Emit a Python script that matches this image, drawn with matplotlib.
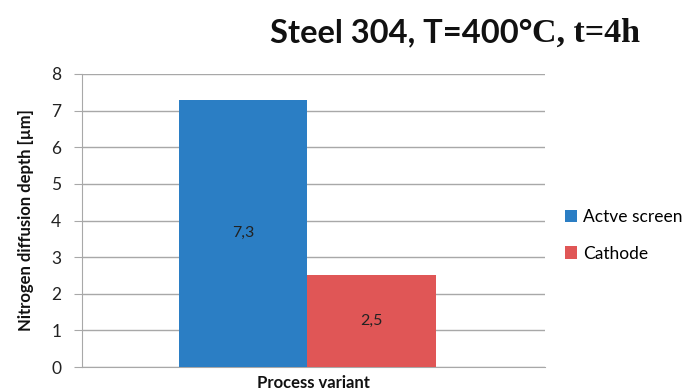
import matplotlib
matplotlib.use("Agg")
import matplotlib.pyplot as plt

series = ["Actve screen", "Cathode"]
values = [7.3, 2.5]
value_labels = ["7,3", "2,5"]
colors = ["#2B7EC4", "#E05656"]
yticks = [0, 1, 2, 3, 4, 5, 6, 7, 8]

plt.rcParams["font.family"] = ["Lato", "DejaVu Sans"]

fig = plt.figure(figsize=(6.97, 3.92), dpi=100)
ax = fig.add_axes([82 / 697, (392 - 367) / 392, 463 / 697, 293 / 392])

width = 0.277
offsets = [-width / 2, width / 2]
for name, v, lab, c, off in zip(series, values, value_labels, colors, offsets):
    ax.bar(off, v, width=width, color=c, label=name, zorder=3)
    ax.text(off, v / 2, lab, ha="center", va="center", fontsize=11.5, color="#222222", zorder=4)

ax.set_xlim(-0.487, 0.513)
ax.set_ylim(0, 8)
ax.set_yticks(yticks)
ax.set_xticks([])
ax.grid(axis="y", color="#a8a8a8", linewidth=1, zorder=0)
for s in ["top", "right"]:
    ax.spines[s].set_visible(False)
for s in ["left", "bottom"]:
    ax.spines[s].set_color("#a8a8a8")
ax.tick_params(axis="y", length=6, color="#a8a8a8", labelsize=12.5, labelcolor="#222222", pad=9)

ax.set_ylabel("Nitrogen diffusion depth [µm]", fontsize=12, fontweight="bold", color="#111111", labelpad=12)
ax.set_xlabel("Process variant", fontsize=12, fontweight="bold", color="#111111", labelpad=6)

leg = ax.legend(loc="center left", bbox_to_anchor=(1.01, 0.45), frameon=False, fontsize=12.5,
                handlelength=0.7, handleheight=0.7, handletextpad=0.35, labelspacing=1.2)

# Title: sans part followed by a serif part
t1 = fig.text(270 / 697, 1 - 33 / 392, "Steel 304, T=400°", fontsize=23.5, fontweight="bold",
              ha="left", va="center", color="#111111")
fig.canvas.draw()
bb = t1.get_window_extent()
fig.text(bb.x1 / fig.bbox.width, 1 - 33 / 392, "C, t=4h", fontsize=24.5, fontweight="bold",
         family="Liberation Serif", ha="left", va="center", color="#111111")

fig.savefig("out.png", dpi=100)
